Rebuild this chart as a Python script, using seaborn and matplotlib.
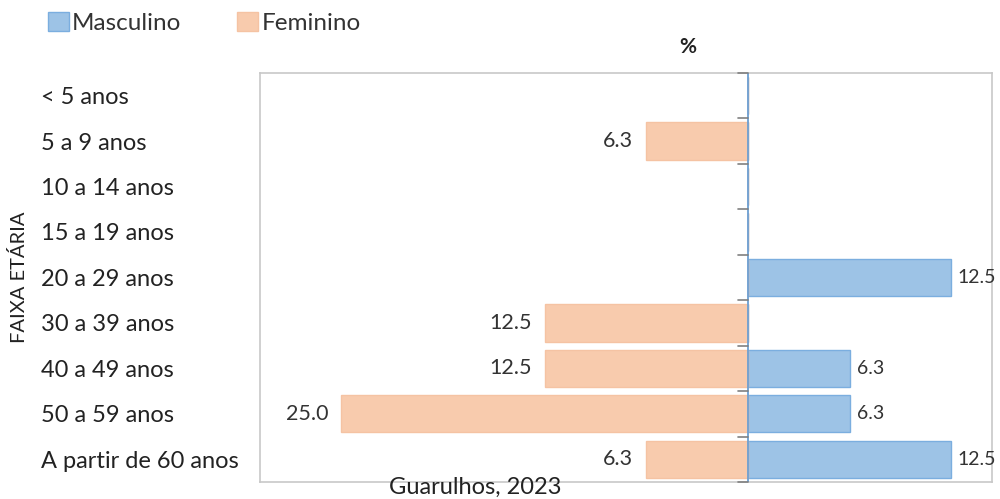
import matplotlib
matplotlib.use("Agg")
import matplotlib.pyplot as plt
import seaborn as sns
import pandas as pd
from matplotlib.patches import Patch

faixas = ["< 5 anos", "5 a 9 anos", "10 a 14 anos", "15 a 19 anos", "20 a 29 anos",
          "30 a 39 anos", "40 a 49 anos", "50 a 59 anos", "A partir de 60 anos"]
masculino = [0, 0, 0, 0, 12.5, 0, 6.3, 6.3, 12.5]
feminino = [0, 6.3, 0, 0, 0, 12.5, 12.5, 25.0, 6.3]

sns.set_style("white")
plt.rcParams["font.family"] = ["Lato", "DejaVu Sans"]

df = pd.DataFrame({
    "faixa": faixas * 2,
    "valor": masculino + [-v for v in feminino],
    "sexo": ["Masculino"] * len(faixas) + ["Feminino"] * len(faixas),
})

cor_m, cor_f = "#9DC3E6", "#F8CBAD"
borda_m, borda_f = "#7BAEDF", "#F5C3A3"
fig = plt.figure(figsize=(10, 4.99), dpi=100)
ax = fig.add_axes([0.26, 0.034, 0.732, 0.82])
sns.barplot(data=df, y="faixa", x="valor", hue="sexo", orient="h", dodge=False,
            palette={"Masculino": cor_m, "Feminino": cor_f}, saturation=1,
            width=0.82, ax=ax, legend=False)
for bar, sx in zip(ax.patches, ["M"] * 9 + ["F"] * 9):
    bar.set_edgecolor(borda_m if sx == "M" else borda_f)
    bar.set_linewidth(1.0)

ax.set_xlim(-30, 15)
ax.set_ylim(len(faixas) - 0.5, -0.5)
ax.set_xticks([])
ax.set_xlabel("")
ax.set_ylabel("FAIXA ETÁRIA", fontsize=14.5, color="#222222")
ax.yaxis.set_label_coords(-0.317, 0.5)
ax.tick_params(axis="y", labelsize=17, colors="#222222", length=0, pad=158)
for lbl in ax.get_yticklabels():
    lbl.set_ha("left")
for s in ax.spines.values():
    s.set_color("#C8C8C8")
    s.set_linewidth(1.2)

# eixo central com marcas
ax.axvline(0, color="#6C9FD2", lw=1.3, zorder=3)
for i in range(len(faixas) + 1):
    ax.plot([-0.6, 0], [i - 0.5, i - 0.5], color="#808080", lw=1.2, zorder=3,
            clip_on=False)

for i, (m, f) in enumerate(zip(masculino, feminino)):
    if f > 0:
        ax.text(-f - 0.8, i, f"{f:.1f}", ha="right", va="center", fontsize=15.5,
                color="#333333")
    if m > 0:
        ax.text(m + 0.4, i, f"{m:.1f}", ha="left", va="center", fontsize=14,
                color="#333333")

fig.text(0.688, 0.905, "%", ha="center", va="center", fontsize=15, fontweight="bold",
         color="#222222")
fig.text(0.475, 0.024, "Guarulhos, 2023", ha="center", va="center", fontsize=17,
         color="#222222")

handles = [Patch(facecolor=cor_m, edgecolor=borda_m, label="Masculino"),
           Patch(facecolor=cor_f, edgecolor=borda_f, label="Feminino")]
fig.legend(handles=handles, loc="upper left", bbox_to_anchor=(0.026, 1.02), ncol=2,
           frameon=False, fontsize=17.5, handlelength=0.85, handleheight=0.85,
           handletextpad=0.15, columnspacing=2.3, labelcolor="#333333")

fig.savefig("out.png", dpi=100)
